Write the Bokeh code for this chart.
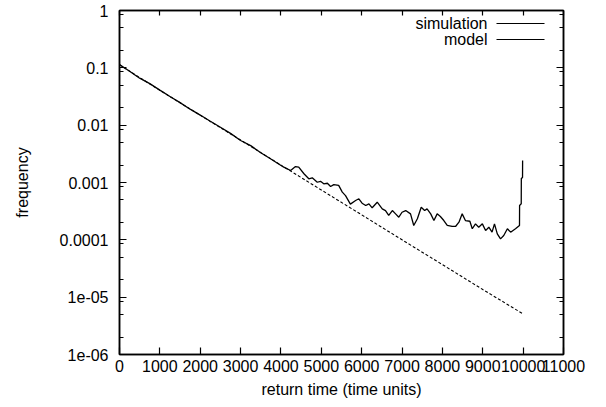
from bokeh.plotting import figure
from bokeh.embed import file_html
from bokeh.resources import INLINE
from bokeh.models import (FixedTicker, LogAxis, LinearAxis, Label, Arrow, Range1d,
                          CustomLabelingPolicy)

# ---- data ----
sim_t = [0, 250, 500, 750, 1000, 1250, 1500, 1750, 2000, 2250, 2500, 2750,
         3000, 3250, 3500, 3740, 4070, 4240, 4360, 4440, 4570, 4690, 4775,
         4900, 4980, 5060, 5150, 5230, 5310, 5430, 5520, 5600, 5720, 5850,
         5930, 6010, 6100, 6180, 6260, 6385, 6510, 6590, 6670, 6760, 6840,
         6920, 7000, 7090, 7210, 7290, 7380, 7475, 7560, 7620, 7710, 7790,
         7870, 7950, 8035, 8120, 8240, 8325, 8410, 8490, 8570, 8680, 8740,
         8820, 8900, 8990, 9070, 9150, 9230, 9290, 9360, 9440, 9520, 9610,
         9690, 9810, 9910, 9912, 9953, 9955, 9985, 9987]
sim_y = [0.114, 0.087, 0.066, 0.053, 0.0408, 0.0316, 0.0247, 0.0190, 0.0150,
         0.0117, 0.0092, 0.0072, 0.0054, 0.0044, 0.0033, 0.0026, 0.00185,
         0.00162, 0.00190, 0.00185, 0.00142, 0.00116, 0.00121, 0.00101,
         0.00105, 0.00095, 0.00097, 0.00085, 0.00092, 0.00089, 0.00068,
         0.00059, 0.00042, 0.000485, 0.00052, 0.000435, 0.000397, 0.000425,
         0.000362, 0.000453, 0.000347, 0.000324, 0.000266, 0.000324,
         0.000284, 0.000248, 0.000303, 0.000324, 0.000284, 0.000178,
         0.000233, 0.000371, 0.000324, 0.000347, 0.000284, 0.000217,
         0.000284, 0.000255, 0.000217, 0.000178, 0.000171, 0.000171,
         0.000203, 0.000284, 0.000217, 0.000211, 0.000156, 0.000190,
         0.000166, 0.000190, 0.000145, 0.000166, 0.000136, 0.000190,
         0.000127, 0.000104, 0.000119, 0.000156, 0.000136, 0.000156,
         0.000178, 0.000397, 0.000425, 0.00117, 0.00122, 0.00242]

model_t = [0, 1000, 2000, 3000, 4000, 5000, 6000, 7000, 8000, 9000, 10000]
model_y = [0.113, 0.0405, 0.0149, 0.0055, 0.00201, 0.00074, 0.000273,
           0.0001, 3.7e-05, 1.36e-05, 5.1e-06]

x_ticks = [0, 1000, 2000, 3000, 4000, 5000, 6000, 7000, 8000, 9000, 10000, 11000]
y_ticks = [1e-06, 1e-05, 0.0001, 0.001, 0.01, 0.1, 1.0]
y_tick_labels = ["1e-06", "1e-05", "0.0001", "0.001", "0.01", "0.1", "1"]
y_minor = [m * t for t in [1e-06, 1e-05, 0.0001, 0.001, 0.01, 0.1] for m in (2, 5, 8.5)]

series_names = ["simulation", "model"]

FONT = "Liberation Sans"
FS = "16px"

p = figure(width=606, height=407, y_axis_type="log",
           x_range=Range1d(0, 11000), y_range=Range1d(1e-06, 1),
           output_backend="svg", toolbar_location=None,
           min_border_left=119, min_border_right=43,
           min_border_top=10, min_border_bottom=53)
p.grid.visible = False
p.background_fill_color = "white"
p.border_fill_color = "white"
p.outline_line_color = "black"
p.outline_line_width = 1.5

xt = FixedTicker(ticks=x_ticks, minor_ticks=[])
yt = FixedTicker(ticks=y_ticks, minor_ticks=y_minor)
overrides = {v: s for v, s in zip(y_ticks, y_tick_labels)}
no_labels = CustomLabelingPolicy(
    code="for (const i of indices) { indices.unset(i) } return indices")


def style(ax, show_labels):
    ax.axis_line_color = "black"
    ax.axis_line_width = 1.5
    ax.major_tick_line_color = "black"
    ax.minor_tick_line_color = "black"
    ax.major_tick_line_width = 1.2
    ax.minor_tick_line_width = 1.2
    ax.major_tick_out = 0
    ax.minor_tick_out = 0
    ax.major_label_text_font = FONT
    ax.major_label_text_color = "black"
    ax.axis_label_text_font = FONT
    ax.axis_label_text_font_size = FS
    ax.axis_label_text_font_style = "normal"
    ax.axis_label_text_color = "black"
    if show_labels:
        ax.major_label_text_font_size = FS
    else:
        ax.major_label_text_font_size = "2px"
        ax.major_label_standoff = 0
        ax.major_label_policy = no_labels


# bottom x axis
xa = p.xaxis[0]
xa.ticker = xt
style(xa, True)
xa.major_tick_in = 7
xa.minor_tick_in = 0
xa.major_label_standoff = 5
xa.axis_label = "return time (time units)"
xa.axis_label_standoff = 6

# left y axis
ya = p.yaxis[0]
ya.ticker = yt
style(ya, True)
ya.major_tick_in = 7
ya.minor_tick_in = 4
ya.major_label_standoff = 11
ya.major_label_overrides = overrides
ya.axis_label = "frequency"
ya.axis_label_standoff = 26

# mirrored axes (ticks only)
top = LinearAxis(ticker=xt)
style(top, False)
top.major_tick_in = 5
top.minor_tick_in = 0
p.add_layout(top, "above")

right = LogAxis(ticker=yt)
style(right, False)
right.major_tick_in = 7
right.minor_tick_in = 4
p.add_layout(right, "right")

# series
p.line(model_t, model_y, line_color="black", line_width=1.1, line_dash="3 2")
p.line(sim_t, sim_y, line_color="black", line_width=1.3)

# key (text then sample line, as in the reference)
key_rows = [(series_names[0], 331), (series_names[1], 315)]
for name, ys in key_rows:
    p.add_layout(Label(x=368, y=ys, x_units="screen", y_units="screen",
                       text=name, text_align="right", text_baseline="middle",
                       text_font=FONT, text_font_size=FS, text_color="black"))
    p.add_layout(Arrow(x_start=377, y_start=ys, x_end=425, y_end=ys,
                       start_units="screen", end_units="screen",
                       end=None, line_color="black", line_width=1.2))

open("out.html", "w").write(file_html(p, INLINE))
